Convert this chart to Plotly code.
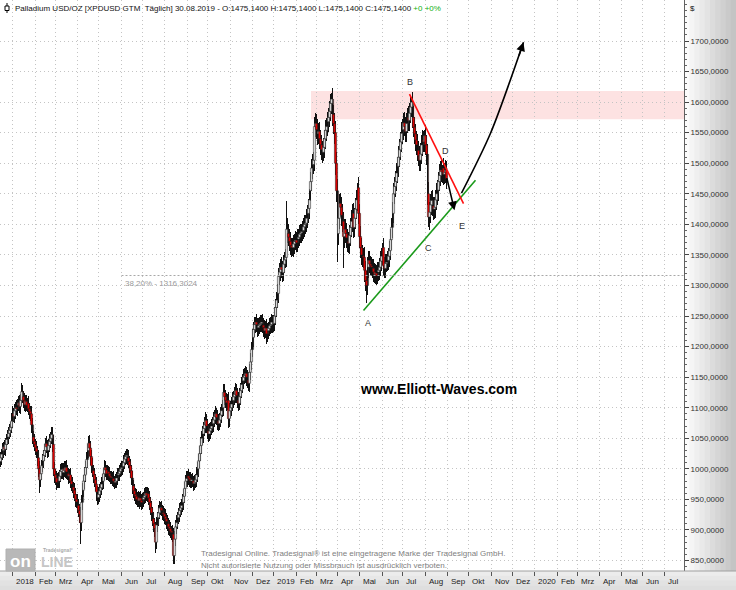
import pandas as pd
import plotly.graph_objects as go

# ---------------- data (daily XPDUSD candles) ----------------
start_date = "2017-12-14"

closes = [
    1018, 1024, 1030, 1036, 1032, 1040, 1048, 1052, 1058, 1063,
    1068, 1078, 1090, 1086, 1095, 1100, 1098, 1104, 1108, 1102,
    1112, 1126, 1118, 1112, 1105, 1110, 1104, 1107, 1098, 1094,
    1090, 1072, 1052, 1045, 1040, 1034, 1028, 1018, 1000, 982,
    992, 1005, 1013, 1022, 1030, 1041, 1036, 1030, 1038, 1045,
    1050, 1056, 1040, 1000, 990, 985, 978, 984, 980, 988,
    996, 999, 994, 1000, 997, 1002, 995, 992, 988, 990,
    980, 975, 970, 965, 958, 950, 946, 940, 932, 925,
    912, 945, 965, 980, 990, 1002, 1015, 1030, 1042, 1034,
    1020, 1005, 997, 990, 982, 975, 962, 953, 958, 964,
    969, 975, 980, 992, 1002, 998, 992, 995, 992, 988,
    986, 985, 984, 980, 978, 980, 985, 990, 992, 996,
    1000, 1002, 1004, 1010, 1016, 1020, 1022, 1018, 1012, 1005,
    997, 985, 972, 964, 958, 955, 950, 953, 948, 952,
    948, 945, 950, 953, 956, 960, 957, 959, 952, 945,
    936, 928, 918, 910, 902, 880, 908, 920, 928, 936,
    936, 932, 928, 926, 922, 918, 914, 910, 905, 902,
    898, 896, 893, 858, 885, 905, 912, 920, 925, 932,
    936, 940, 945, 955, 968, 980, 984, 988, 985, 982,
    980, 982, 980, 976, 978, 982, 990, 1000, 1013, 1025,
    1038, 1050, 1057, 1066, 1072, 1079, 1070, 1062, 1057, 1062,
    1066, 1070, 1074, 1080, 1086, 1090, 1084, 1078, 1074, 1080,
    1088, 1095, 1100, 1125, 1118, 1112, 1108, 1112, 1082, 1095,
    1100, 1106, 1112, 1118, 1122, 1128, 1120, 1112, 1107, 1118,
    1128, 1138, 1144, 1150, 1153, 1156, 1150, 1145, 1140, 1158,
    1175, 1195, 1215, 1228, 1236, 1240, 1236, 1231, 1234, 1236,
    1238, 1240, 1235, 1231, 1226, 1230, 1221, 1226, 1230, 1234,
    1236, 1240, 1238, 1238, 1250, 1264, 1276, 1287, 1315, 1322,
    1330, 1326, 1321, 1335, 1342, 1346, 1392, 1385, 1379, 1372,
    1365, 1362, 1362, 1368, 1372, 1374, 1370, 1376, 1379, 1384,
    1386, 1388, 1390, 1396, 1400, 1402, 1410, 1418, 1426, 1440,
    1470, 1492, 1498, 1505, 1560, 1565, 1555, 1548, 1552, 1540,
    1530, 1522, 1518, 1526, 1540, 1554, 1560, 1568, 1575, 1585,
    1598, 1605, 1580, 1565, 1550, 1500, 1455, 1385, 1410, 1434,
    1428, 1415, 1405, 1380, 1392, 1385, 1378, 1372, 1369, 1382,
    1395, 1405, 1418, 1395, 1410, 1425, 1440, 1460, 1418, 1380,
    1362, 1350, 1348, 1346, 1325, 1308, 1300, 1330, 1341, 1335,
    1332, 1330, 1328, 1322, 1318, 1320, 1316, 1322, 1325, 1330,
    1340, 1348, 1362, 1332, 1328, 1336, 1338, 1341, 1348, 1357,
    1375, 1395, 1418, 1450, 1462, 1470, 1484, 1495, 1510, 1522,
    1535, 1549, 1555, 1566, 1560, 1552, 1565, 1575, 1570, 1582,
    1592, 1600, 1575, 1559, 1548, 1538, 1530, 1521, 1512, 1505,
    1515, 1530, 1538, 1535, 1545, 1530, 1515, 1450, 1412, 1420,
    1432, 1439, 1430, 1425, 1428, 1440, 1450, 1456, 1470, 1480,
    1489, 1486, 1492, 1482, 1485, 1489, 1475,
]

opens = [
    1012, 1018, 1024, 1030, 1036, 1032, 1040, 1048, 1052, 1058,
    1063, 1068, 1078, 1090, 1086, 1095, 1100, 1098, 1104, 1108,
    1102, 1112, 1126, 1118, 1112, 1105, 1110, 1104, 1107, 1098,
    1094, 1090, 1072, 1052, 1045, 1040, 1034, 1028, 1018, 1000,
    982, 992, 1005, 1013, 1022, 1030, 1041, 1036, 1030, 1038,
    1045, 1050, 1056, 1040, 1000, 990, 985, 978, 984, 980,
    988, 996, 999, 994, 1000, 997, 1002, 995, 992, 988,
    990, 980, 975, 970, 965, 958, 950, 946, 940, 932,
    925, 912, 945, 965, 980, 990, 1002, 1015, 1030, 1042,
    1034, 1020, 1005, 997, 990, 982, 975, 962, 953, 958,
    964, 969, 975, 980, 992, 1002, 998, 992, 995, 992,
    988, 986, 985, 984, 980, 978, 980, 985, 990, 992,
    996, 1000, 1002, 1004, 1010, 1016, 1020, 1022, 1018, 1012,
    1005, 997, 985, 972, 964, 958, 955, 950, 953, 948,
    952, 948, 945, 950, 953, 956, 960, 957, 959, 952,
    945, 936, 928, 918, 910, 902, 880, 908, 920, 928,
    936, 936, 932, 928, 926, 922, 918, 914, 910, 905,
    902, 898, 896, 893, 858, 885, 905, 912, 920, 925,
    932, 936, 940, 945, 955, 968, 980, 984, 988, 985,
    982, 980, 982, 980, 976, 978, 982, 990, 1000, 1013,
    1025, 1038, 1050, 1057, 1066, 1072, 1079, 1070, 1062, 1057,
    1062, 1066, 1070, 1074, 1080, 1086, 1090, 1084, 1078, 1074,
    1080, 1088, 1095, 1100, 1125, 1118, 1112, 1108, 1112, 1082,
    1095, 1100, 1106, 1112, 1118, 1122, 1128, 1120, 1112, 1107,
    1118, 1128, 1138, 1144, 1150, 1153, 1156, 1150, 1145, 1140,
    1158, 1175, 1195, 1215, 1228, 1236, 1240, 1236, 1231, 1234,
    1236, 1238, 1240, 1235, 1231, 1226, 1230, 1221, 1226, 1230,
    1234, 1236, 1240, 1238, 1238, 1250, 1264, 1276, 1287, 1315,
    1322, 1330, 1326, 1321, 1335, 1342, 1346, 1392, 1385, 1379,
    1372, 1365, 1362, 1362, 1368, 1372, 1374, 1370, 1376, 1379,
    1384, 1386, 1388, 1390, 1396, 1400, 1402, 1410, 1418, 1426,
    1455, 1470, 1492, 1498, 1505, 1560, 1565, 1555, 1548, 1552,
    1540, 1530, 1522, 1518, 1526, 1540, 1554, 1560, 1568, 1575,
    1585, 1598, 1605, 1580, 1565, 1550, 1500, 1455, 1385, 1410,
    1434, 1428, 1415, 1405, 1380, 1392, 1385, 1378, 1372, 1369,
    1382, 1395, 1405, 1418, 1395, 1410, 1425, 1440, 1460, 1418,
    1380, 1362, 1350, 1348, 1346, 1325, 1308, 1300, 1330, 1341,
    1335, 1332, 1330, 1328, 1322, 1318, 1320, 1316, 1322, 1325,
    1330, 1340, 1348, 1362, 1332, 1328, 1336, 1338, 1341, 1348,
    1357, 1375, 1395, 1418, 1450, 1462, 1470, 1484, 1495, 1510,
    1522, 1535, 1549, 1555, 1566, 1560, 1552, 1565, 1575, 1570,
    1582, 1592, 1600, 1575, 1559, 1548, 1538, 1530, 1521, 1512,
    1505, 1515, 1530, 1538, 1535, 1545, 1530, 1515, 1450, 1412,
    1420, 1432, 1439, 1430, 1425, 1428, 1440, 1450, 1456, 1470,
    1480, 1489, 1486, 1492, 1482, 1485, 1489,
]

# wick lengths above the body top / below the body bottom (USD)
wick_up = [
    10, 9, 12, 8, 11, 10, 9, 12, 10, 11,
    9, 13, 12, 10, 11, 9, 12, 10, 11, 13,
    10, 14, 11, 9, 12, 10, 11, 9, 12, 10,
    9, 13, 11, 10, 12, 9, 11, 10, 13, 12,
    11, 10, 12, 9, 11, 10, 13, 11, 10, 12,
    10, 12, 12, 16, 11, 10, 12, 9, 11, 10,
    12, 10, 11, 9, 13, 10, 12, 11, 9, 10,
    11, 10, 12, 9, 11, 10, 9, 12, 10, 11,
    13, 12, 11, 10, 13, 11, 12, 10, 11, 13,
    12, 11, 13, 10, 12, 9, 11, 10, 12, 11,
    10, 11, 12, 10, 13, 11, 9, 12, 10, 11,
    9, 11, 10, 12, 9, 11, 10, 12, 9, 11,
    10, 11, 9, 12, 10, 9, 11, 10, 12, 9,
    11, 10, 12, 9, 11, 10, 12, 9, 11, 10,
    12, 10, 11, 9, 13, 10, 11, 12, 10, 11,
    9, 11, 10, 12, 10, 11, 13, 10, 12, 11,
    10, 12, 9, 11, 10, 12, 9, 11, 10, 12,
    11, 9, 12, 10, 13, 11, 12, 10, 11, 12,
    10, 11, 13, 12, 11, 10, 12, 9, 11, 10,
    12, 10, 11, 9, 12, 10, 13, 11, 12, 13,
    14, 12, 13, 11, 12, 14, 10, 12, 11, 13,
    11, 12, 10, 13, 11, 12, 10, 13, 11, 12,
    13, 11, 12, 14, 13, 11, 12, 10, 13, 12,
    11, 12, 13, 10, 12, 13, 11, 12, 13, 14,
    12, 13, 11, 14, 12, 13, 11, 12, 13, 14,
    15, 13, 14, 12, 13, 8, 14, 11, 13, 12,
    13, 12, 14, 11, 13, 12, 15, 13, 11, 12,
    13, 14, 12, 13, 15, 14, 13, 16, 14, 15,
    13, 16, 14, 15, 13, 14, 47, 18, 16, 14,
    15, 13, 16, 14, 13, 15, 14, 16, 13, 15,
    14, 13, 15, 14, 16, 13, 15, 14, 16, 18,
    16, 15, 17, 14, 16, 18, 15, 17, 14, 16,
    15, 17, 14, 16, 15, 17, 14, 16, 15, 17,
    16, 10, 18, 16, 17, 19, 18, 20, 16, 15,
    17, 16, 18, 15, 17, 16, 18, 15, 16, 17,
    16, 18, 15, 17, 16, 18, 16, 7, 18, 16,
    17, 15, 16, 14, 17, 15, 16, 17, 15, 16,
    14, 15, 13, 16, 14, 15, 13, 16, 14, 15,
    16, 14, 7, 15, 14, 16, 13, 15, 14, 16,
    17, 16, 18, 17, 16, 18, 17, 16, 18, 17,
    16, 18, 17, 16, 18, 16, 17, 15, 18, 16,
    17, 8, 16, 18, 16, 17, 15, 18, 16, 17,
    18, 16, 17, 15, 9, 18, 16, 17, 19, 16,
    17, 16, 18, 15, 17, 16, 18, 17, 16, 18,
    15, 17, 5, 16, 15, 17, 14,
]

wick_dn = [
    9, 11, 10, 12, 9, 11, 10, 9, 12, 10,
    11, 10, 12, 9, 11, 13, 10, 12, 9, 11,
    12, 10, 11, 13, 10, 12, 9, 11, 10, 12,
    11, 13, 12, 10, 11, 12, 10, 13, 14, 21,
    12, 11, 10, 12, 9, 11, 10, 12, 11, 10,
    11, 10, 13, 12, 14, 11, 13, 10, 12, 11,
    10, 12, 11, 13, 10, 12, 11, 10, 13, 11,
    12, 11, 10, 12, 11, 13, 10, 12, 11, 13,
    35, 13, 12, 11, 13, 12, 11, 13, 12, 13,
    13, 12, 11, 13, 12, 11, 14, 12, 11, 13,
    11, 12, 10, 13, 11, 12, 10, 11, 12, 10,
    11, 10, 12, 9, 11, 10, 12, 11, 10, 12,
    10, 11, 12, 9, 11, 10, 12, 11, 10, 12,
    12, 11, 13, 12, 11, 13, 10, 12, 11, 13,
    11, 12, 10, 13, 11, 12, 10, 11, 12, 13,
    12, 13, 11, 14, 13, 18, 12, 11, 13, 10,
    11, 10, 12, 11, 13, 10, 12, 11, 13, 12,
    11, 13, 12, 14, 13, 11, 12, 10, 11, 12,
    11, 12, 10, 13, 11, 12, 10, 13, 11, 12,
    11, 12, 10, 13, 11, 10, 12, 11, 13, 12,
    12, 13, 11, 14, 12, 13, 12, 14, 13, 12,
    13, 11, 12, 13, 11, 12, 13, 14, 12, 11,
    12, 13, 11, 14, 13, 12, 13, 12, 16, 13,
    12, 13, 11, 12, 13, 14, 12, 13, 12, 11,
    13, 12, 14, 13, 12, 13, 14, 12, 13, 14,
    13, 14, 12, 15, 13, 14, 12, 15, 13, 14,
    12, 14, 13, 15, 14, 12, 16, 13, 14, 12,
    14, 13, 15, 14, 13, 14, 15, 13, 16, 14,
    15, 14, 16, 13, 15, 14, 16, 15, 14, 16,
    15, 16, 14, 15, 16, 14, 15, 16, 14, 15,
    14, 16, 15, 14, 16, 15, 14, 16, 15, 17,
    16, 15, 17, 16, 18, 17, 16, 18, 17, 16,
    17, 16, 18, 15, 17, 16, 18, 15, 17, 16,
    16, 17, 19, 17, 18, 20, 19, 47, 18, 17,
    16, 18, 17, 52, 18, 16, 17, 18, 16, 17,
    18, 16, 17, 18, 16, 17, 16, 18, 17, 18,
    17, 16, 18, 17, 19, 17, 28, 16, 17, 15,
    16, 14, 15, 16, 14, 15, 16, 14, 15, 16,
    15, 16, 14, 17, 15, 16, 14, 15, 16, 17,
    16, 17, 18, 16, 17, 18, 16, 17, 18, 16,
    17, 16, 18, 17, 16, 18, 17, 16, 18, 17,
    16, 17, 18, 16, 17, 18, 16, 17, 16, 18,
    17, 16, 18, 17, 16, 17, 18, 19, 17, 22,
    18, 16, 17, 18, 16, 17, 16, 18, 17, 16,
    17, 16, 18, 17, 16, 18, 17,
]

month_labels = ["2018", "Feb", "Mrz", "Apr", "Mai", "Jun", "Jul", "Aug", "Sep", "Okt", "Nov", "Dez",
                "2019", "Feb", "Mrz", "Apr", "Mai", "Jun", "Jul", "Aug", "Sep", "Okt", "Nov", "Dez",
                "2020", "Feb", "Mrz", "Apr", "Mai", "Jun", "Jul"]
price_ticks = [850, 900, 950, 1000, 1050, 1100, 1150, 1200, 1250, 1300,
               1350, 1400, 1450, 1500, 1550, 1600, 1650, 1700]

# Elliott-wave drawing objects
support_dates = ["2019-05-07", "2019-10-10"]
support_vals = [1259, 1472]
resist_dates = ["2019-07-10", "2019-09-24"]
resist_vals = [1613, 1434]
e_leg_dates = ["2019-08-30", "2019-09-11"]
e_leg_vals = [1478, 1423]
target_dates = ["2019-09-20", "2019-10-31", "2019-12-17"]
target_vals = [1451, 1549, 1698]
target_tail_date, target_tail_val = "2019-12-10", 1674
wave_names = ["A", "B", "C", "D", "E"]
wave_dates = ["2019-05-13", "2019-07-10", "2019-08-06", "2019-08-29", "2019-09-20"]
wave_vals = [1239, 1633, 1362, 1520, 1398]
fib_level = 1316.3024
fib_start = "2018-06-01"
zone_start = "2019-02-21 12:00"
zone_low, zone_high = 1572, 1618

x_range = ["2017-12-13 12:00", "2020-07-28 12:00"]
y_range = [832.8, 1767.1]

# ---------------- build ----------------
assert len(closes) == len(opens) == len(wick_up) == len(wick_dn)
dates = pd.bdate_range(start_date, periods=len(closes))
highs = [max(o, c) + u for o, c, u in zip(opens, closes, wick_up)]
lows = [min(o, c) - d for o, c, d in zip(opens, closes, wick_dn)]
body_base = [min(o, c) for o, c in zip(opens, closes)]
body_len = [max(abs(c - o), 0.8) for o, c in zip(opens, closes)]
body_col = ["#d8d8d8" if c >= o else "#dd0000" for o, c in zip(opens, closes)]
wick_len = [h - l for h, l in zip(highs, lows)]
month_ticks = pd.date_range("2018-01-01", "2020-07-01", freq="BMS")

FONT = "Liberation Sans, Arial, sans-serif"
W, H = 736, 590
ML, MR, MT, MB = 0, 52, 0, 19
PW, PH = W - ML - MR, H - MT - MB
DAY_MS = 86400000


def px(xp):
    return xp / PW


def py(yp):
    return 1 - yp / PH


fig = go.Figure()

# candles: wicks (thin black bars) first, then the outlined bodies on top
fig.add_trace(go.Bar(x=dates, y=wick_len, base=lows, width=1.0 * DAY_MS,
                     marker=dict(color="#111111", line=dict(width=0)),
                     showlegend=False, hoverinfo="skip"))
fig.add_trace(go.Bar(x=dates, y=body_len, base=body_base, width=2.2 * DAY_MS,
                     marker=dict(color=body_col, line=dict(color="#202020", width=0.5)),
                     showlegend=False, hoverinfo="skip"))

fig.add_trace(go.Scatter(x=support_dates, y=support_vals, mode="lines",
                         line=dict(color="#1a9a1a", width=1.6), showlegend=False, hoverinfo="skip"))
fig.add_trace(go.Scatter(x=resist_dates, y=resist_vals, mode="lines",
                         line=dict(color="#ff1010", width=1.6), showlegend=False, hoverinfo="skip"))
fig.add_trace(go.Scatter(x=target_dates, y=target_vals, mode="lines",
                         line=dict(color="#000000", width=1.6, shape="spline", smoothing=0.8),
                         showlegend=False, hoverinfo="skip"))

shapes = []
shapes.append(dict(type="rect", xref="x", yref="y", x0=zone_start, x1=x_range[1],
                   y0=zone_low, y1=zone_high, fillcolor="#fde2e2", line=dict(width=0), layer="below"))
shapes.append(dict(type="line", xref="x", yref="y", x0=fib_start, x1=x_range[1],
                   y0=fib_level, y1=fib_level, line=dict(color="#a8a8a8", width=1, dash="2px,2px")))
n = 10
for i in range(n):
    g = int(252 - (252 - 196) * i / (n - 1))
    shapes.append(dict(type="rect", xref="paper", yref="paper",
                       x0=1 + i * (MR / n) / PW, x1=1 + (i + 1) * (MR / n) / PW + 0.002,
                       y0=0, y1=1, fillcolor=f"rgb({g},{g},{g})", line=dict(width=0), layer="below"))
for i in range(4):
    g = int(236 - 14 * i / 3)
    shapes.append(dict(type="rect", xref="paper", yref="paper",
                       x0=0, x1=W / PW, y0=-(i * MB / 4) / PH, y1=-((i + 1) * MB / 4) / PH - 0.001,
                       fillcolor=f"rgb({g},{g},{g})", line=dict(width=0), layer="below"))
shapes.append(dict(type="line", xref="paper", yref="paper", x0=0, x1=W / PW, y0=0, y1=0,
                   line=dict(color="#a0a0a0", width=1)))
shapes.append(dict(type="line", xref="paper", yref="paper", x0=px(7), x1=px(7), y0=py(3), y1=py(13),
                   line=dict(color="#000", width=1)))
shapes.append(dict(type="rect", xref="paper", yref="paper", x0=px(5), x1=px(9), y0=py(6), y1=py(10.5),
                   fillcolor="#ffffff", line=dict(color="#000", width=1)))
shapes.append(dict(type="rect", xref="paper", yref="paper", x0=px(6), x1=px(35), y0=py(571), y1=py(549),
                   fillcolor="#b8b8b8", line=dict(color="#b0b0b0", width=1)))

annotations = []


def note(x, y, text, size, color, xanchor="center", bold=False, **kw):
    d = dict(xref="paper", yref="paper", x=x, y=y, xanchor=xanchor, yanchor="middle",
             showarrow=False, text=f"<b>{text}</b>" if bold else text,
             font=dict(family=FONT, size=size, color=color))
    d.update(kw)
    annotations.append(d)


note(px(13), py(8),
     "Palladium USD/OZ [XPDUSD GTM\u00a0 Täglich] 30.08.2019 - O:1475,1400 H:1475,1400 "
     "L:1475,1400 C:1475,1400 <span style='color:#10b010'>+0 +0%</span>", 8, "#111", xanchor="left")
note(px(688), py(8), "$", 8, "#111", xanchor="left")
for d, lab in zip(month_ticks, month_labels):
    annotations.append(dict(xref="x", yref="paper", x=d, y=py(581), xanchor="left", yanchor="middle",
                            xshift=1, showarrow=False, text=lab,
                            font=dict(family=FONT, size=8, color="#222")))
annotations.append(dict(xref="x", yref="y", x="2018-06-04", y=fib_level, xanchor="left", yanchor="top",
                        yshift=-1, showarrow=False, text="38,20% - 1316,3024",
                        font=dict(family=FONT, size=8, color="#9a9a9a")))
for nme, d, v in zip(wave_names, wave_dates, wave_vals):
    annotations.append(dict(xref="x", yref="y", x=d, y=v, xanchor="center", yanchor="middle",
                            showarrow=False, text=nme, font=dict(family=FONT, size=9, color="#333")))
annotations.append(dict(xref="x", yref="y", axref="x", ayref="y", x=e_leg_dates[1], y=e_leg_vals[1],
                        ax=e_leg_dates[0], ay=e_leg_vals[0], showarrow=True, arrowhead=2, arrowsize=1.1,
                        arrowwidth=1.6, arrowcolor="#000", text=""))
annotations.append(dict(xref="x", yref="y", axref="x", ayref="y", x=target_dates[-1], y=target_vals[-1],
                        ax=target_tail_date, ay=target_tail_val, showarrow=True, arrowhead=2, arrowsize=1.1,
                        arrowwidth=1.6, arrowcolor="#000", text=""))
note(px(438), py(389), "www.Elliott-Waves.com", 14, "#000", bold=True)
note(px(199), py(553), "Tradesignal Online. Tradesignal® ist eine eingetragene Marke der Tradesignal GmbH.",
     8, "#808080", xanchor="left")
note(px(199), py(565), "Nicht autorisierte Nutzung oder Missbrauch ist ausdrücklich verboten.",
     8, "#808080", xanchor="left")
note(px(20.5), py(561), "on", 17, "#ffffff", bold=True)
note(px(57), py(562), "LINE", 14, "#c6c6c6", bold=True)
note(px(58), py(550), "Tradesignal°", 5, "#aaaaaa", bold=True)

fig.update_layout(
    width=W, height=H, margin=dict(l=ML, r=MR, t=MT, b=MB, pad=0),
    paper_bgcolor="#ffffff", plot_bgcolor="#ffffff",
    showlegend=False, hovermode=False, barmode="overlay", bargap=0,
    shapes=shapes, annotations=annotations,
    xaxis=dict(
        type="date", range=x_range, rangebreaks=[dict(bounds=["sat", "mon"])],
        tickmode="array", tickvals=list(month_ticks), showticklabels=False,
        ticks="outside", ticklen=4, tickcolor="#555", tickwidth=1,
        showgrid=True, gridcolor="#c4c4c4", griddash="1px,3px", gridwidth=1,
        showline=False, zeroline=False, fixedrange=True,
    ),
    yaxis=dict(
        side="right", range=y_range, tickmode="array", tickvals=price_ticks,
        ticktext=[f"{v},0000" for v in price_ticks],
        ticks="outside", ticklen=4, tickcolor="#444", tickwidth=1,
        tickfont=dict(family=FONT, size=8, color="#333"),
        minor=dict(ticks="outside", ticklen=2, tickcolor="#666", dtick=10, tick0=0, showgrid=False),
        showgrid=True, gridcolor="#c4c4c4", griddash="1px,3px", gridwidth=1,
        showline=True, linecolor="#606060", linewidth=1, zeroline=False, fixedrange=True,
    ),
)

fig.write_html("out.html", config={"displayModeBar": False, "staticPlot": True},
               post_script="document.body.style.margin='0px';")
